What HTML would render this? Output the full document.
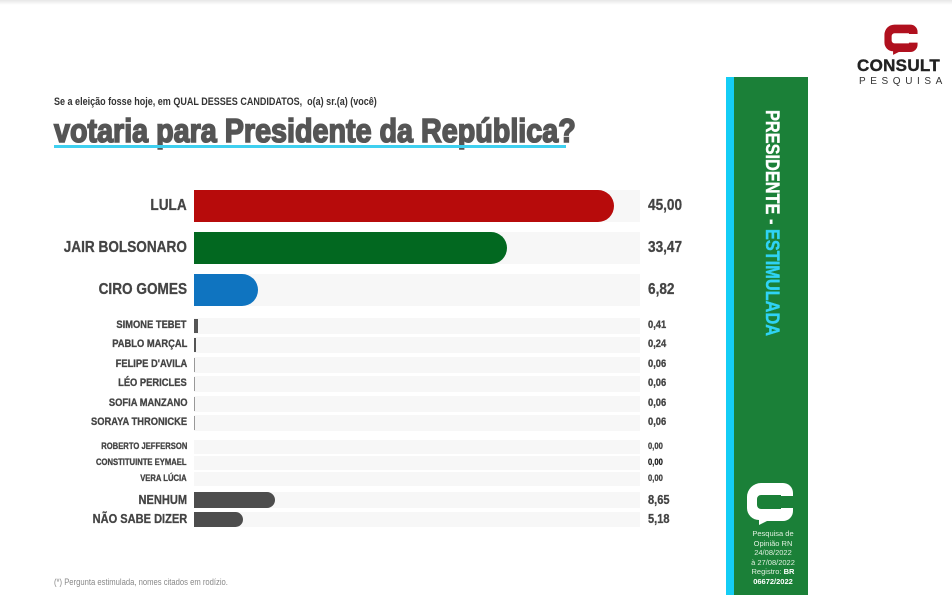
<!DOCTYPE html>
<html><head><meta charset="utf-8"><style>
*{margin:0;padding:0;box-sizing:border-box}
body{width:952px;height:595px;background:#fff;position:relative;overflow:hidden;font-family:"Liberation Sans Narrow","Liberation Sans",sans-serif;}
.a{position:absolute}
.lab{position:absolute;right:765px;text-align:right;font-weight:bold;color:#444;white-space:nowrap;transform:scaleX(.85);transform-origin:right center;-webkit-text-stroke:0.3px #444}
.bg{position:absolute;left:194px;width:446px;background:#f7f7f7}
.bar{position:absolute;left:194px}
.val{position:absolute;left:648px;font-weight:bold;color:#444;transform:scaleX(.85);transform-origin:left center;-webkit-text-stroke:0.3px #444}
</style></head><body>
<div class="a" style="left:0;top:0;width:952px;height:5px;background:linear-gradient(#e6e6e6,#fff)"></div>
<div class="a" style="left:54px;top:96px;font-size:11px;color:#333;font-weight:bold;transform:scaleX(.82);transform-origin:left">Se a eleição fosse hoje, em QUAL DESSES CANDIDATOS,&nbsp; o(a) sr.(a) (você)</div>
<div class="a" style="left:54px;top:112px;font-size:33px;font-weight:bold;color:#555;white-space:nowrap;font-family:'Liberation Sans',sans-serif;transform:scaleX(.87);transform-origin:left;-webkit-text-stroke:1.6px #555">votaria para Presidente da República?</div>
<div class="a" style="left:54px;top:145px;width:512px;height:3px;background:#3fd0f0"></div>

<div class="bg" style="top:190px;height:32px"></div><div class="bar" style="top:190px;height:32px;width:420px;background:#b70b0b;border-radius:0 16px 16px 0"></div>
<div class="lab" style="top:197px;font-size:16px">LULA</div><div class="val" style="top:197px;font-size:16px">45,00</div>
<div class="bg" style="top:232px;height:32px"></div><div class="bar" style="top:232px;height:32px;width:313px;background:#026820;border-radius:0 16px 16px 0"></div>
<div class="lab" style="top:239px;font-size:16px">JAIR BOLSONARO</div><div class="val" style="top:239px;font-size:16px">33,47</div>
<div class="bg" style="top:274px;height:32px"></div><div class="bar" style="top:274px;height:32px;width:64px;background:#0f74c0;border-radius:0 16px 16px 0"></div>
<div class="lab" style="top:281px;font-size:16px">CIRO GOMES</div><div class="val" style="top:281px;font-size:16px">6,82</div>

<div class="bg" style="top:318px;height:16px"></div><div class="bar" style="top:319px;height:14px;width:4px;background:#555"></div>
<div class="lab" style="top:319px;font-size:11px">SIMONE TEBET</div><div class="val" style="top:319px;font-size:11px">0,41</div>
<div class="bg" style="top:337px;height:16px"></div><div class="bar" style="top:338px;height:14px;width:2px;background:#555"></div>
<div class="lab" style="top:338px;font-size:11px">PABLO MARÇAL</div><div class="val" style="top:338px;font-size:11px">0,24</div>
<div class="bg" style="top:357px;height:16px"></div><div class="bar" style="top:358px;height:14px;width:1px;background:#999"></div>
<div class="lab" style="top:358px;font-size:11px">FELIPE D'AVILA</div><div class="val" style="top:358px;font-size:11px">0,06</div>
<div class="bg" style="top:376px;height:16px"></div><div class="bar" style="top:377px;height:14px;width:1px;background:#999"></div>
<div class="lab" style="top:377px;font-size:11px">LÉO PERICLES</div><div class="val" style="top:377px;font-size:11px">0,06</div>
<div class="bg" style="top:396px;height:16px"></div><div class="bar" style="top:397px;height:14px;width:1px;background:#999"></div>
<div class="lab" style="top:397px;font-size:11px">SOFIA MANZANO</div><div class="val" style="top:397px;font-size:11px">0,06</div>
<div class="bg" style="top:415px;height:16px"></div><div class="bar" style="top:416px;height:14px;width:1px;background:#999"></div>
<div class="lab" style="top:416px;font-size:11px">SORAYA THRONICKE</div><div class="val" style="top:416px;font-size:11px">0,06</div>

<div class="bg" style="top:440px;height:14px"></div>
<div class="lab" style="top:441px;font-size:9px">ROBERTO JEFFERSON</div><div class="val" style="top:441px;font-size:9px">0,00</div>
<div class="bg" style="top:456px;height:14px"></div>
<div class="lab" style="top:457px;font-size:9px">CONSTITUINTE EYMAEL</div><div class="val" style="top:457px;font-size:9px;color:#111">0,00</div>
<div class="bg" style="top:472px;height:14px"></div>
<div class="lab" style="top:473px;font-size:9px">VERA LÚCIA</div><div class="val" style="top:473px;font-size:9px">0,00</div>

<div class="bg" style="top:492px;height:16px"></div><div class="bar" style="top:492px;height:16px;width:81px;background:#4d4d4d;border-radius:0 8px 8px 0"></div>
<div class="lab" style="top:492px;font-size:13px">NENHUM</div><div class="val" style="top:492px;font-size:13px">8,65</div>
<div class="bg" style="top:512px;height:15px"></div><div class="bar" style="top:512px;height:15px;width:49px;background:#4d4d4d;border-radius:0 8px 8px 0"></div>
<div class="lab" style="top:511px;font-size:13px">NÃO SABE DIZER</div><div class="val" style="top:511px;font-size:13px">5,18</div>

<div class="a" style="left:54px;top:577px;font-size:9px;color:#888;transform:scaleX(.85);transform-origin:left">(*) Pergunta estimulada, nomes citados em rodízio.</div>

<div class="a" style="left:726px;top:77px;width:82px;height:518px;background:#1b8038"></div>
<div class="a" style="left:726px;top:77px;width:8px;height:518px;background:#14cdf5"></div>
<div class="a" style="left:760px;top:110px;width:22px;height:240px;">
<div style="position:absolute;left:22px;top:0;transform-origin:left top;white-space:nowrap;font-size:19px;font-weight:bold;color:#fff;transform:rotate(90deg) scaleX(.86);-webkit-text-stroke:0.4px currentColor">PRESIDENTE - <span style="color:#2fd3f5">ESTIMULADA</span></div></div>
<svg class="a" style="left:745px;top:481px" width="50" height="44" viewBox="0 0 50 44"><path d="M24 2 H38 a10 10 0 0 1 10 10 V15 H36 V14 H16 a4 4 0 0 0 -4 4 V24 a4 4 0 0 0 4 4 H36 V27 H48 V30 a10 10 0 0 1 -10 10 H22 L14 44 V39 a12 12 0 0 1 -12 -12 V16 a14 14 0 0 1 14 -14z" fill="#fff"/></svg>
<div class="a" style="left:738px;top:529px;width:70px;text-align:center;font-size:7.5px;line-height:9.6px;color:#e0f0e0;font-family:'Liberation Sans',sans-serif">Pesquisa de<br>Opinião RN<br>24/08/2022<br>à 27/08/2022<br>Registro: <b style="color:#fff">BR</b><br><b style="color:#fff">06672/2022</b></div>

<svg class="a" style="left:883px;top:22px" width="36" height="34" viewBox="0 0 50 44"><path d="M24 2 H38 a10 10 0 0 1 10 10 V15 H36 V14 H16 a4 4 0 0 0 -4 4 V24 a4 4 0 0 0 4 4 H36 V27 H48 V30 a10 10 0 0 1 -10 10 H22 L14 44 V39 a12 12 0 0 1 -12 -12 V16 a14 14 0 0 1 14 -14z" fill="#b0101e"/></svg>
<div class="a" style="left:857px;top:56px;font-size:17px;font-weight:bold;color:#222;font-family:'Liberation Sans',sans-serif;letter-spacing:0.3px;-webkit-text-stroke:0.4px #222">CONSULT</div>
<div class="a" style="left:859px;top:76px;font-size:10px;color:#333;font-family:'Liberation Sans',sans-serif;letter-spacing:4.6px">PESQUISA</div>
</body></html>
